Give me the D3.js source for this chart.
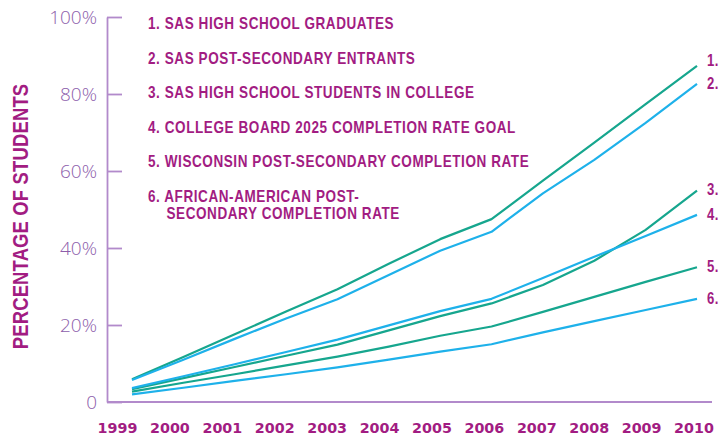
<!DOCTYPE html>
<html>
<head>
<meta charset="utf-8">
<script src="https://cdn.jsdelivr.net/npm/d3@7"></script>
<style>
  body { margin: 0; background: #fff; }
  svg { display: block; }
</style>
</head>
<body>
<div id="container"></div>
<script>
const WIDTH = 722;
const HEIGHT = 435;

// plot frame
const LEFT = 107;
const RIGHT = 712;
const TOP = 17;
const BOTTOM = 402;

const PURPLE = "#a21c82";
const AXIS = "#b28acb";
const TICK_TEXT = "#8d5eab";
const GREEN = "#16a68e";
const BLUE = "#1eb1ea";

// no narrow face installed, so squeeze Liberation Sans Bold sideways
const BOLD_FONT = "'Liberation Sans', Arial, sans-serif";
const SQUEEZE = " scale(0.82,1)";

var years = [1999, 2000, 2001, 2002, 2003, 2004, 2005, 2006, 2007, 2008, 2009, 2010];

var highSchoolGrads     = [5.9, 11.7, 17.6, 23.5, 29.3, 35.9, 42.3, 47.5, 57.5, 67.4, 77.4, 87.3];
var postSecEntrants     = [5.7, 11.0, 16.4, 21.7, 26.7, 33.0, 39.3, 44.2, 54.2, 62.9, 72.5, 82.6];
var studentsInCollege   = [3.3, 6.2, 9.1, 12.0, 14.9, 18.6, 22.3, 25.6, 30.4, 36.7, 44.7, 54.9];
var collegeBoardGoal    = [3.6, 6.7, 9.8, 13.0, 16.2, 19.9, 23.6, 26.8, 32.2, 37.7, 43.1, 48.6];
var wisconsinCompletion = [2.7, 5.0, 7.2, 9.5, 11.8, 14.4, 17.2, 19.6, 23.4, 27.3, 31.2, 35.0];
var africanAmCompletion = [2.0, 3.7, 5.5, 7.2, 9.0, 11.0, 13.1, 15.0, 18.1, 21.0, 23.9, 26.8];

var endLabels = ["1.", "2.", "3.", "4.", "5.", "6."];
var legendLabels = [
    ["1. SAS HIGH SCHOOL GRADUATES"],
    ["2. SAS POST-SECONDARY ENTRANTS"],
    ["3. SAS HIGH SCHOOL STUDENTS IN COLLEGE"],
    ["4. COLLEGE BOARD 2025 COMPLETION RATE GOAL"],
    ["5. WISCONSIN POST-SECONDARY COMPLETION RATE"],
    ["6. AFRICAN-AMERICAN POST-", "SECONDARY COMPLETION RATE"]
];

var yTickValues = [0, 20, 40, 60, 80, 100];
var yTickLabels = ["0", "20%", "40%", "60%", "80%", "100%"];
var yTitle = "PERCENTAGE OF STUDENTS";

var series = [highSchoolGrads, postSecEntrants, studentsInCollege,
              collegeBoardGoal, wisconsinCompletion, africanAmCompletion];
var colors = [GREEN, BLUE, GREEN, BLUE, GREEN, BLUE];

var translate = function (x, y) {
    return "translate(" + x + "," + y + ")";
};

var createChart = function () {
    var svg = d3.select("#container")
        .append("svg")
        .attr("width", WIDTH)
        .attr("height", HEIGHT);

    var xScale = d3.scaleLinear().domain([1999, 2010]).range([132, 697]);
    var xLabelScale = d3.scalePoint().domain(years).range([117, 693.5]);
    var yScale = d3.scaleLinear().domain([0, 100]).range([BOTTOM, TOP]);

    // y axis, ticks pointing into the plot
    var yAxis = d3.axisLeft(yScale)
        .tickValues(yTickValues)
        .tickFormat(function (d, i) { return yTickLabels[i]; })
        .tickSizeInner(-15)
        .tickSizeOuter(0)
        .tickPadding(10);

    var gy = svg.append("g")
        .attr("transform", translate(LEFT, 0))
        .call(yAxis);
    gy.select(".domain").attr("stroke", AXIS).attr("stroke-width", 1.8);
    gy.selectAll(".tick line").attr("stroke", AXIS).attr("stroke-width", 1.8);
    gy.selectAll(".tick text")
        .attr("fill", TICK_TEXT)
        .style("font-family", "'Open Sans', sans-serif")
        .style("font-weight", 300)
        .style("font-size", "19px");

    // baseline
    svg.append("line")
        .attr("x1", LEFT).attr("x2", RIGHT)
        .attr("y1", yScale(0)).attr("y2", yScale(0))
        .attr("stroke", AXIS)
        .attr("stroke-width", 1.8);

    // year labels
    var xAxis = d3.axisBottom(xLabelScale).tickSize(0).tickPadding(20.5);
    var gx = svg.append("g")
        .attr("transform", translate(0, BOTTOM))
        .call(xAxis);
    gx.select(".domain").remove();
    gx.selectAll(".tick text")
        .attr("fill", PURPLE)
        .style("font-family", "'DejaVu Sans', sans-serif")
        .style("font-weight", "bold")
        .style("font-size", "14.3px");

    // y title
    svg.append("text")
        .attr("transform", translate(20, 216.5) + " rotate(-90)" + SQUEEZE)
        .attr("text-anchor", "middle")
        .attr("dy", "0.36em")
        .attr("fill", PURPLE)
        .style("font-family", BOLD_FONT)
        .style("font-weight", "bold")
        .style("font-size", "22.5px")
        .style("letter-spacing", "0.2px")
        .text(yTitle);

    var line = d3.line()
        .x(function (d, i) { return xScale(years[i]); })
        .y(function (d) { return yScale(d); });

    svg.append("g").selectAll("path")
        .data(series)
        .enter()
        .append("path")
        .attr("d", line)
        .attr("fill", "none")
        .attr("stroke", function (d, i) { return colors[i]; })
        .attr("stroke-width", 2.2)
        .attr("stroke-linejoin", "round");

    // labels at the line ends
    svg.append("g").selectAll("text")
        .data(series)
        .enter()
        .append("text")
        .attr("transform", function (d, i) {
            var y = yScale(d[d.length - 1]) + (i === 0 ? -6 : -1);
            return translate(707, y) + SQUEEZE;
        })
        .attr("dy", "0.36em")
        .attr("fill", PURPLE)
        .style("font-family", BOLD_FONT)
        .style("font-weight", "bold")
        .style("font-size", "16px")
        .style("letter-spacing", "0.5px")
        .text(function (d, i) { return endLabels[i]; });

    // legend
    var legend = svg.append("g").attr("transform", translate(148, 29));
    legend.selectAll("text")
        .data(legendLabels)
        .enter()
        .append("text")
        .attr("transform", function (d, i) { return translate(0, i * 34.6) + SQUEEZE; })
        .attr("fill", PURPLE)
        .style("font-family", BOLD_FONT)
        .style("font-weight", "bold")
        .style("font-size", "16.5px")
        .style("letter-spacing", "0.7px")
        .each(function (d) {
            var t = d3.select(this);
            d.forEach(function (s, k) {
                t.append("tspan")
                    .attr("x", k === 0 ? 0 : 18.5 / 0.82)
                    .attr("dy", k === 0 ? 0 : 16.6)
                    .text(s);
            });
        });
};

window.onload = createChart;
</script>
</body>
</html>
